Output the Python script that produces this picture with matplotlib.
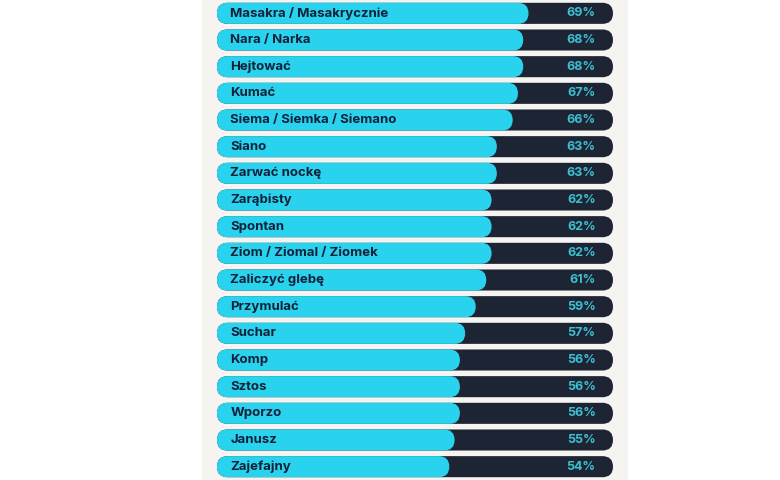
import matplotlib
matplotlib.use("Agg")
import matplotlib.pyplot as plt
from matplotlib.patches import FancyBboxPatch, Rectangle

labels = ["Masakra / Masakrycznie", "Nara / Narka", "Hejtować", "Kumać",
          "Siema / Siemka / Siemano", "Siano", "Zarwać nockę", "Zarąbisty",
          "Spontan", "Ziom / Ziomal / Ziomek", "Zaliczyć glebę", "Przymulać",
          "Suchar", "Komp", "Sztos", "Wporzo", "Janusz", "Zajefajny"]
values = [69, 68, 68, 67, 66, 63, 63, 62, 62, 62, 61, 59, 57, 56, 56, 56, 55, 54]

BASE, END = 10, 85
CYAN = "#29d3ee"
NAVY = "#1d2434"
PCT = "#3dbfd2"
TXT = "#12203a"
PANEL = "#f5f4f0"

plt.rcParams['font.family'] = ['Inter', 'DejaVu Sans']

fig = plt.figure(figsize=(7.8, 4.8), dpi=100, facecolor="white")
fig.add_artist(Rectangle((202/780, 0), (628-202)/780, 1, transform=fig.transFigure,
                         facecolor=PANEL, edgecolor="none", zorder=-5))
ax = fig.add_axes([217/780, 0, 396/780, 1])
ax.set_zorder(2)
ax.set_xlim(BASE, END)
n = len(values)
ax.set_ylim(n - 0.5, -0.5)
ax.axis("off")

fig.canvas.draw()
p0 = ax.transData.transform((BASE, 0))
p1 = ax.transData.transform((END, 1))
px_x = (p1[0] - p0[0]) / (END - BASE)
px_y = abs(p1[1] - p0[1])
aspect = px_x / px_y
h = 0.79
r = h / aspect / 2

for i, (lab, v) in enumerate(zip(labels, values)):
    ax.add_patch(FancyBboxPatch((BASE, i - h/2), END - BASE, h,
                                boxstyle=f"round,pad=0,rounding_size={r}",
                                mutation_aspect=aspect, facecolor=NAVY,
                                edgecolor="none", zorder=1))
    ax.add_patch(FancyBboxPatch((BASE, i - h/2), v - BASE, h,
                                boxstyle=f"round,pad=0,rounding_size={r}",
                                mutation_aspect=aspect, facecolor=CYAN,
                                edgecolor="none", zorder=2))
    ax.annotate(lab, xy=(BASE, i), xytext=(9.5, 0), textcoords="offset points",
                ha="left", va="center", fontsize=9.5, fontweight="bold",
                color=TXT, zorder=3)
    ax.annotate(f"{v}%", xy=(END, i), xytext=(-12.5, 0), textcoords="offset points",
                ha="right", va="center", fontsize=9, fontweight="bold",
                color=PCT, zorder=3)

fig.savefig("out.png", dpi=100, facecolor="white")
